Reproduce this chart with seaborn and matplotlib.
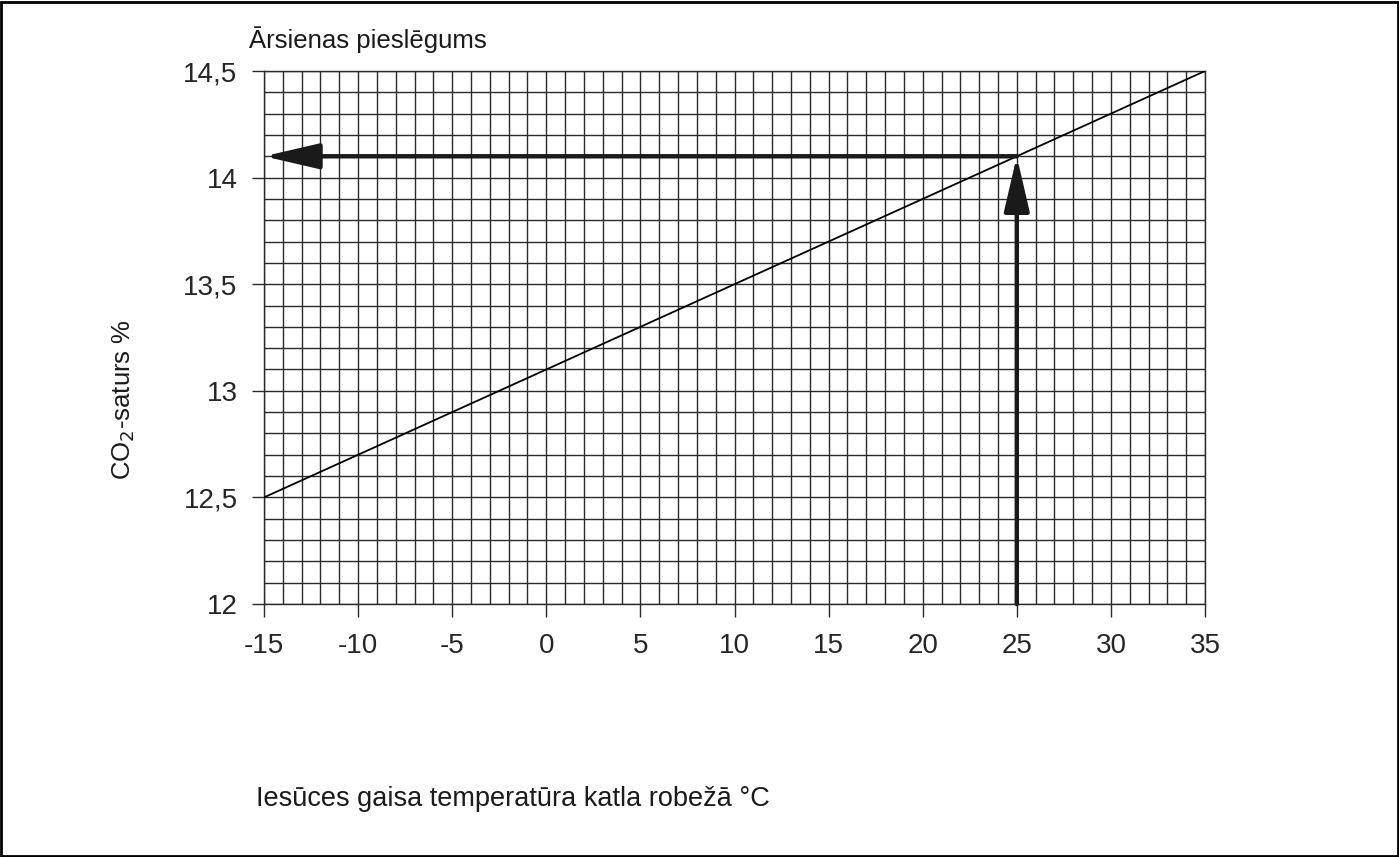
import numpy as np
import pandas as pd
import matplotlib
matplotlib.use("Agg")
import matplotlib.pyplot as plt
from matplotlib.patches import Rectangle
import seaborn as sns

# air temperature at boiler (°C) and CO2 content (%)
temp = [-15, 35]
co2 = [12.5, 14.5]
# example reading shown with arrows
read_temp = 25
read_co2 = 14.1

x_ticks = [-15, -10, -5, 0, 5, 10, 15, 20, 25, 30, 35]
y_ticks = [12, 12.5, 13, 13.5, 14, 14.5]
y_labels = ["12", "12,5", "13", "13,5", "14", "14,5"]

sns.set_theme(style="white")
plt.rcParams['font.family'] = ['Liberation Sans', 'DejaVu Sans']

fig = plt.figure(figsize=(13.99, 8.57), dpi=100)
ax = fig.add_axes([264 / 1399, 1 - 604 / 857, (1205 - 264) / 1399, (604 - 71) / 857])

df = pd.DataFrame({"temp": temp, "co2": co2})
sns.lineplot(data=df, x="temp", y="co2", color="black", linewidth=1.3, ax=ax, zorder=3)

ax.set_xlim(-15, 35)
ax.set_ylim(12, 14.5)
ax.set_xticks(x_ticks)
ax.set_xticklabels([str(t) for t in x_ticks], fontsize=20)
ax.set_yticks(y_ticks)
ax.set_yticklabels(y_labels, fontsize=20)
ax.set_xticks(np.arange(-15, 36, 1), minor=True)
ax.set_yticks(np.arange(12, 14.51, 0.1), minor=True)
ax.grid(which="both", color="#2a2a2a", linewidth=1.0)
ax.tick_params(which="major", direction="out", length=9, width=1.0, color="#2a2a2a",
               bottom=True, left=True)
ax.tick_params(axis="y", which="major", pad=10)
ax.tick_params(axis="x", which="major", pad=12)
ax.tick_params(which="minor", length=0)
for s in ax.spines.values():
    s.set_color("#2a2a2a")
    s.set_linewidth(1.0)

ax.set_xlabel("")
ax.set_ylabel("")

# reading arrows
arrow = dict(arrowstyle="-|>,head_length=2.8,head_width=0.65", color="#1a1a1a",
             linewidth=3.2, shrinkA=0, shrinkB=0)
ax.annotate("", xy=(read_temp, read_co2), xytext=(read_temp, 12), arrowprops=arrow, zorder=4)
ax.annotate("", xy=(-15, read_co2), xytext=(read_temp, read_co2), arrowprops=arrow, zorder=4)

fig.text(124 / 1399, 1 - 400 / 857, "CO$_2$-saturs %", fontsize=18.5, rotation=90,
         va="center", ha="center", color="#1a1a1a")
fig.text(249 / 1399, 1 - 40 / 857, "Ārsienas pieslēgums", fontsize=18.5, va="center",
         ha="left", color="#1a1a1a")
fig.text(256 / 1399, 1 - 799 / 857, "Iesūces gaisa temperatūra katla robežā °C", fontsize=19.5,
         va="center", ha="left", color="#1a1a1a")

fig.add_artist(Rectangle((0.001, 0.001), 0.998, 0.997, transform=fig.transFigure,
                         fill=False, edgecolor="black", linewidth=2))

fig.savefig("out.png", dpi=100)
